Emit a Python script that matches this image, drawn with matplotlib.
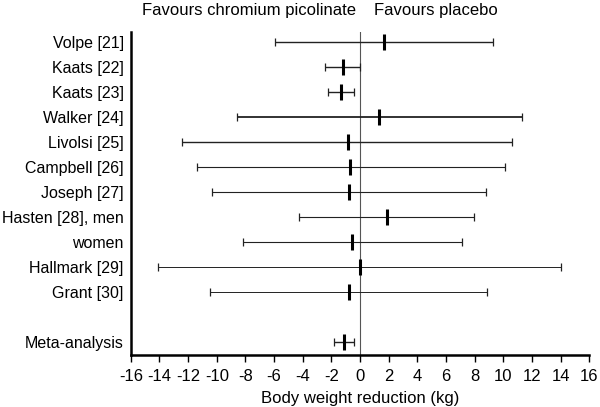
import numpy as np
import matplotlib
matplotlib.use('Agg')
import matplotlib.pyplot as plt

plt.rcParams['font.family'] = ['Liberation Sans', 'DejaVu Sans']

studies = ['Volpe [21]', 'Kaats [22]', 'Kaats [23]', 'Walker [24]', 'Livolsi [25]',
           'Campbell [26]', 'Joseph [27]', 'Hasten [28], men', 'women',
           'Hallmark [29]', 'Grant [30]', 'Meta-analysis']
rows = [0, 1, 2, 3, 4, 5, 6, 7, 8, 9, 10, 12]
effect = [1.7, -1.2, -1.3, 1.3, -0.85, -0.7, -0.75, 1.85, -0.55, 0.0, -0.8, -1.1]
lower = [-5.9, -2.45, -2.2, -8.6, -12.45, -11.4, -10.35, -4.25, -8.2, -14.1, -10.5, -1.8]
upper = [9.3, 0.0, -0.4, 11.3, 10.6, 10.1, 8.8, 7.95, 7.15, 14.05, 8.9, -0.4]
lw = [1.0, 1.0, 1.0, 1.3, 1.0, 0.8, 0.8, 0.8, 0.8, 0.7, 0.7, 1.0]
xticks = np.arange(-16, 17, 2)

fig = plt.figure(figsize=(6, 4.07), dpi=100)
ax = fig.add_axes([0.218, 0.128, 0.764, 0.793])

ax.axvline(0, color='#555555', lw=0.8, zorder=1)
for y, e, lo, hi, w in zip(rows, effect, lower, upper, lw):
    ax.errorbar(e, y, xerr=[[e - lo], [hi - e]], fmt='none', ecolor='#222222',
                elinewidth=w, capsize=3, capthick=0.9, zorder=2)
    ax.plot(e, y, marker='|', markersize=11, mew=2.2, color='black', zorder=3)

ax.set_xlim(-16, 16)
ax.set_ylim(12.5, -0.4)
ax.set_xticks(xticks)
ax.set_xticklabels([str(t) for t in xticks])
ax.set_yticks(rows)
ax.set_yticklabels(studies)
ax.tick_params(axis='y', length=0, pad=5, labelsize=11.5)
ax.tick_params(axis='x', length=5, width=1, direction='out', labelsize=12, pad=5)
for s in ['top', 'right']:
    ax.spines[s].set_visible(False)
ax.spines['left'].set_linewidth(1.8)
ax.spines['bottom'].set_linewidth(1.8)
ax.set_xlabel('Body weight reduction (kg)', fontsize=12, labelpad=5)

fig.text(0.415, 0.992, 'Favours chromium picolinate', ha='center', va='top', fontsize=12)
fig.text(0.727, 0.992, 'Favours placebo', ha='center', va='top', fontsize=12)

fig.savefig('out.png', dpi=100)
